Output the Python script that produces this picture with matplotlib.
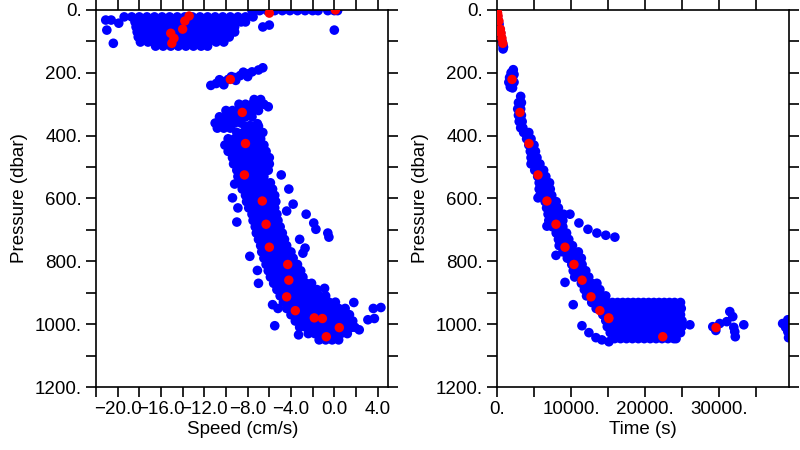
import numpy as np
import matplotlib
matplotlib.use('Agg')
import matplotlib.pyplot as plt
from matplotlib.ticker import MultipleLocator

plt.rcParams['font.family'] = ['Liberation Sans', 'DejaVu Sans']

# ---- left panel: blue points, rows of (pressure, [speeds]) ----
speed_rows = [
    (2, [-7.6, -6.9, -6.2, -5.5, -4.8, -4.1, -3.4, -2.7, -2.0, -1.5, -0.6, 0.0, 0.3]),
    (22, [-19.4, -18.7, -18.0, -17.3, -16.6, -15.9, -15.2, -14.5, -13.8, -13.1, -12.4, -11.7, -11.0, -10.3, -9.6, -8.9, -8.2, -7.5]),
    (38, [-18.4, -17.7, -17.0, -16.3, -15.6, -14.9, -14.2, -13.5, -12.8, -12.1, -11.4, -10.7, -10.0, -9.3, -8.6, -8.2]),
    (54, [-18.3, -17.6, -16.9, -16.2, -15.5, -14.8, -14.1, -13.4, -12.7, -12.0, -11.3, -10.6, -9.9, -9.2]),
    (70, [-18.2, -17.5, -16.8, -16.1, -15.4, -14.7, -14.0, -13.3, -12.6, -11.9, -11.2, -10.5, -9.8, -9.2]),
    (86, [-18.1, -17.4, -16.7, -16.0, -15.3, -14.6, -13.9, -13.2, -12.5, -11.8, -11.1, -10.4, -9.7]),
    (102, [-17.9, -17.2, -16.5, -15.8, -15.1, -14.4, -13.7, -13.0, -12.3, -11.6, -10.9, -10.2]),
    (115, [-16.5, -15.8, -15.1, -14.4, -13.7, -13.0, -12.3, -11.7]),
    (285, [-7.4, -6.8]),
    (300, [-8.8, -8.2, -7.6, -7.0, -6.5]),
    (320, [-10.0, -9.4, -8.8, -8.2, -7.6, -7.0]),
    (340, [-10.6, -10.0, -9.4, -8.8, -8.2, -7.6]),
    (360, [-11.0, -10.4, -9.8, -9.2, -8.6]),
    (376, [-10.8, -10.2, -9.6]),
    (370, [-8.2, -7.6, -7.0]),
    (390, [-9.0, -8.4, -7.8, -7.2, -6.6]),
    (410, [-9.8, -9.2, -8.6, -8.0, -7.4, -6.8]),
    (430, [-10.1, -9.5, -8.9, -8.3, -7.7, -7.1, -6.5]),
    (450, [-9.8, -9.2, -8.6, -8.0, -7.4, -6.8, -6.3]),
    (470, [-9.4, -8.8, -8.2, -7.6, -7.0, -6.4, -6.0]),
    (490, [-9.3, -8.7, -8.1, -7.5, -6.9, -6.3, -6.0]),
    (510, [-9.0, -8.4, -7.8, -7.2, -6.6, -6.1]),
    (530, [-8.9, -8.3, -7.7, -7.1, -6.5]),
    (550, [-8.7, -8.1, -7.5, -6.9, -6.3, -5.9]),
    (570, [-8.5, -7.9, -7.3, -6.7, -6.1, -5.7]),
    (590, [-8.2, -7.6, -7.0, -6.4, -5.8, -5.5]),
    (610, [-8.1, -7.5, -6.9, -6.3, -5.7, -5.4]),
    (630, [-7.9, -7.3, -6.7, -6.1, -5.5]),
    (650, [-7.6, -7.0, -6.4, -5.8, -5.3]),
    (670, [-7.5, -6.9, -6.3, -5.7, -5.2]),
    (690, [-7.3, -6.7, -6.1, -5.5, -5.0]),
    (710, [-7.2, -6.6, -6.0, -5.4, -4.8]),
    (730, [-7.0, -6.4, -5.8, -5.2, -4.6]),
    (750, [-6.8, -6.2, -5.6, -5.0, -4.4]),
    (770, [-6.7, -6.1, -5.5, -4.9, -4.3, -4.0]),
    (790, [-6.5, -5.9, -5.3, -4.7, -4.1, -3.8]),
    (810, [-6.3, -5.7, -5.1, -4.5, -3.9, -3.4]),
    (830, [-6.1, -5.5, -4.9, -4.3, -3.7, -3.1]),
    (850, [-5.9, -5.3, -4.7, -4.1, -3.5, -2.9]),
    (870, [-5.6, -5.0, -4.4, -3.8, -3.2, -2.6, -2.1]),
    (890, [-5.3, -4.7, -4.1, -3.5, -2.9, -2.3, -1.6]),
    (910, [-5.0, -4.4, -3.8, -3.2, -2.6, -2.0, -1.4, -0.8]),
    (930, [-4.7, -4.1, -3.5, -2.9, -2.3, -1.7, -1.1, -0.5, 0.1]),
    (950, [-4.4, -3.8, -3.2, -2.6, -2.0, -1.4, -0.8, -0.2, 0.4, 1.0]),
    (970, [-4.0, -3.4, -2.8, -2.2, -1.6, -1.0, -0.4, 0.2, 0.8, 1.4]),
    (990, [-3.6, -3.0, -2.4, -1.8, -1.2, -0.6, 0.0, 0.6, 1.2, 1.7]),
    (1010, [-3.2, -2.6, -2.0, -1.4, -0.8, -0.2, 0.4, 1.0, 1.6, 1.9]),
    (1030, [-2.4, -1.8, -1.2, -0.6, 0.0, 0.6, 1.2]),
    (1050, [-1.4, -0.8, -0.2, 0.4]),
]

# scattered single points (speed, pressure)
speed_extra = [
    (-21.1, 32), (-20.6, 32), (-21.0, 64), (-20.4, 106), (-19.9, 42),
    (-6.6, 54), (-6.0, 48), (0.0, 64),
    (-11.4, 240), (-10.9, 234), (-10.3, 228), (-9.8, 221), (-9.2, 215), (-8.7, 209),
    (-8.1, 203), (-7.6, 197), (-7.0, 191), (-6.6, 184), (-10.6, 222), (-9.5, 212),
    (-8.4, 198), (-10.2, 238), (-9.1, 224), (-8.0, 212),
    (-6.1, 308), (-7.8, 368), (-7.1, 362),
    (-4.9, 525), (-4.2, 570), (-3.8, 618), (-4.4, 640), (-2.6, 650), (-1.9, 678),
    (-1.7, 698), (-0.6, 710), (-0.5, 723), (-3.2, 730), (-2.7, 758), (-2.9, 774),
    (-7.8, 784), (-7.1, 829), (-7.0, 870), (-5.7, 938), (-5.2, 950), (-0.9, 886),
    (1.8, 931), (3.6, 950), (4.3, 947), (3.1, 986), (3.7, 982), (-5.5, 1005),
    (-3.3, 1034), (2.3, 1018), (-9.4, 598), (-9.0, 675), (-8.9, 630), (-9.2, 554),
]

# ---- right panel: blue points, rows of (pressure, [times]) ----
time_rows = [
    (275, [3200]),
    (295, [2900, 3300]),
    (315, [2800, 3200]),
    (335, [2900, 3300]),
    (355, [3000, 3400]),
    (375, [3200, 3500]),
    (390, [3600, 4300]),
    (410, [4000, 4600]),
    (430, [4300, 5000]),
    (450, [4500, 5200]),
    (470, [4600, 5400]),
    (490, [4600, 5200, 5800]),
    (510, [5100, 5800, 6300]),
    (530, [5500, 6100, 6600]),
    (550, [5700, 6400, 7100]),
    (570, [5700, 6400, 7200]),
    (590, [5800, 6500, 7400]),
    (610, [6500, 7200, 8000]),
    (630, [6700, 7400, 8300]),
    (650, [6900, 7600, 8300, 9000]),
    (670, [7000, 7700, 8400, 8900]),
    (690, [7500, 8200, 8900]),
    (710, [8000, 8600, 9400]),
    (730, [8300, 9000, 9700]),
    (750, [8400, 9100, 9800, 10200]),
    (770, [8900, 9600, 10300, 11000]),
    (790, [9500, 10200, 10900, 11400]),
    (810, [10100, 10800, 11500]),
    (830, [10300, 11000, 11700, 12000]),
    (850, [10500, 11200, 11900, 12400]),
    (870, [11400, 12100, 12800, 13500]),
    (890, [11800, 12500, 13200, 13900]),
    (910, [12100, 12800, 13500, 14200, 14700]),
    (931, [12800, 13500, 14200, 14900, 15600, 16300, 17000, 17700, 18400, 19100, 19800, 20500, 21200, 21900, 22600, 23300, 24000, 24800]),
    (950, [13400, 14100, 14800, 15500, 16200, 16900, 17600, 18300, 19000, 19700, 20400, 21100, 21800, 22500, 23200, 23900, 24600, 24900]),
    (970, [14300, 15000, 15700, 16400, 17100, 17800, 18500, 19200, 19900, 20600, 21300, 22000, 22700, 23400, 24100, 24800]),
    (989, [14700, 15400, 16100, 16800, 17500, 18200, 18900, 19600, 20300, 21000, 21700, 22400, 23100, 23800, 24500, 25000]),
    (1008, [14900, 15600, 16300, 17000, 17700, 18400, 19100, 19800, 20500, 21200, 21900, 22600, 23300, 24000, 24700, 25000]),
    (1027, [15300, 16000, 16700, 17400, 18100, 18800, 19500, 20200, 20900, 21600, 22300, 23000, 23700, 24400, 24800]),
    (1046, [15900, 16700, 17500, 18300, 19100, 19900, 20700, 21500, 22300, 23100, 23900, 24200]),
]

time_extra = [
    (0, 5), (80, 20), (180, 35), (280, 45), (380, 60), (480, 72), (580, 88),
    (680, 100), (780, 110), (880, 118), (820, 124),
    (2200, 190), (1900, 200), (2300, 205), (1700, 215), (2100, 215), (1600, 230),
    (2000, 235), (2300, 230), (1800, 245), (2100, 248),
    (6750, 688), (7970, 781), (9190, 867), (5540, 598), (10300, 938), (26070, 1002),
    (9860, 650), (11070, 678), (12290, 698), (13500, 710), (14700, 717), (15930, 723),
    (11480, 1005), (12420, 1027), (13370, 1043), (14170, 1050), (15120, 1056),
    (29160, 1008), (29570, 1020), (30100, 998), (31050, 992), (31460, 960),
    (31860, 976), (32000, 1010), (32130, 1024), (32200, 1040), (33350, 1002),
    (38600, 998), (39300, 986), (39300, 1024), (39400, 1043), (39000, 1010),
]

# ---- red points (same samples in both panels) ----
red_p = [0, 10, 19, 35, 61, 74, 90, 106, 221, 326, 425, 525, 608, 682, 755,
         810, 860, 913, 957, 980, 982, 1011, 1040]
red_speed = [0.1, -6.0, -13.4, -13.8, -14.0, -15.1, -14.8, -15.0, -9.6, -8.5, -8.2, -8.3,
             -6.65, -6.3, -6.0, -4.3, -4.2, -4.4, -3.6, -1.85, -1.1, 0.46, -0.74]
red_time = [0, 80, 140, 260, 460, 550, 670, 790, 2030, 3100, 4320, 5540, 6750, 7970,
            9190, 10400, 11500, 12700, 13900, 15100, 15100, 29600, 22400]

ylabels = ['0.', '200.', '400.', '600.', '800.', '1000.', '1200.']
speed_ticks = [-20, -16, -12, -8, -4, 0, 4]
speed_labels = ['\u221220.0', '\u221216.0', '\u221212.0', '\u22128.0', '\u22124.0', '0.0', '4.0']
time_ticks = [0, 10000, 20000, 30000]
time_labels = ['0.', '10000.', '20000.', '30000.']


def flatten(rows, extra):
    xs, ys = [], []
    for p, vals in rows:
        for v in vals:
            xs.append(v)
            ys.append(p)
    for v, p in extra:
        xs.append(v)
        ys.append(p)
    return np.array(xs), np.array(ys)


def style(ax):
    ax.set_ylim(1200, 0)
    ax.set_yticks(np.arange(0, 1201, 200))
    ax.set_yticklabels(ylabels)
    ax.yaxis.set_minor_locator(MultipleLocator(100))
    ax.tick_params(which='both', direction='out', length=7.2, width=1.2,
                   top=True, right=True, labelsize=13.5, pad=3, colors='black')
    for s in ax.spines.values():
        s.set_linewidth(1.2)
    ax.set_ylabel('Pressure (dbar)', fontsize=13.5, labelpad=5)


fig = plt.figure(figsize=(8, 4.5), dpi=100)

ax1 = fig.add_axes([0.12, 0.14, 0.3656, 0.8378])
sx, sy = flatten(speed_rows, speed_extra)
ax1.scatter(sx, sy, s=48, c='#0000ff', edgecolors='none', zorder=2)
ax1.scatter(red_speed, red_p, s=46, c='#ff0000', edgecolors='none', zorder=3)
ax1.set_xlim(-22, 5)
ax1.set_xticks(speed_ticks)
ax1.set_xticklabels(speed_labels)
ax1.xaxis.set_minor_locator(MultipleLocator(2))
style(ax1)
ax1.set_xlabel('Speed (cm/s)', fontsize=13.5, labelpad=2)

ax2 = fig.add_axes([0.62125, 0.14, 0.365, 0.8378])
tx, ty = flatten(time_rows, time_extra)
ax2.scatter(tx, ty, s=48, c='#0000ff', edgecolors='none', zorder=2)
ax2.scatter(red_time, red_p, s=46, c='#ff0000', edgecolors='none', zorder=3)
ax2.set_xlim(0, 39460)
ax2.set_xticks(time_ticks)
ax2.set_xticklabels(time_labels)
ax2.xaxis.set_minor_locator(MultipleLocator(5000))
style(ax2)
ax2.set_xlabel('Time (s)', fontsize=13.5, labelpad=2)

fig.savefig('out.png', dpi=100)
